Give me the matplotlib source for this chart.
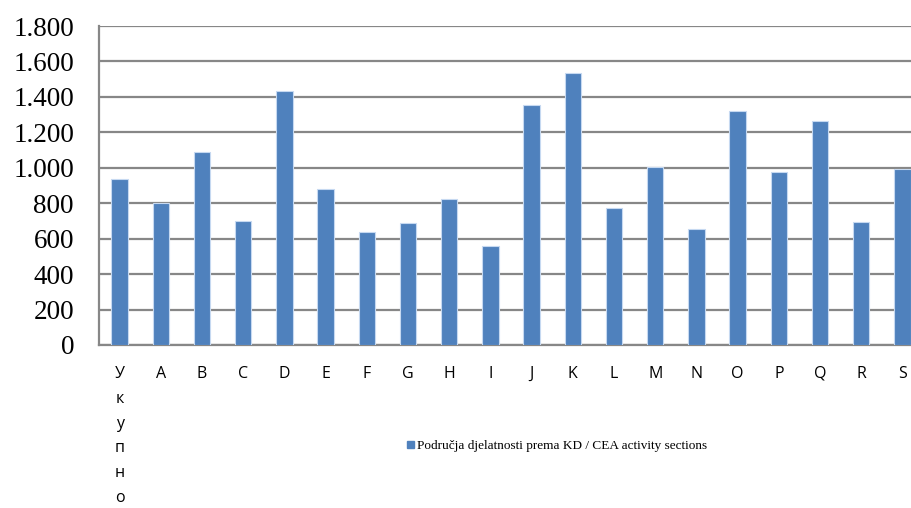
import matplotlib
matplotlib.use("Agg")
import matplotlib.pyplot as plt
import matplotlib.patches as mpatches
from matplotlib.ticker import FuncFormatter

categories = ["Укупно", "A", "B", "C", "D", "E", "F", "G", "H", "I",
              "J", "K", "L", "M", "N", "O", "P", "Q", "R", "S"]
values = [937, 800, 1088, 700, 1431, 883, 638, 691, 825, 561,
          1354, 1533, 775, 1003, 653, 1320, 978, 1262, 692, 991]
yticks = [0, 200, 400, 600, 800, 1000, 1200, 1400, 1600, 1800]
legend_label = "Područja djelatnosti prema KD / CEA activity sections"

bar_color = "#4f81bd"
grid_color = "#878787"

W, H = 911, 508
fig = plt.figure(figsize=(W / 100, H / 100), dpi=100)
# chart is clipped on the right in the reference, so the axes runs past the edge
ax = fig.add_axes([99 / W, 1 - 345 / H, 824 / W, 319 / H])

x = list(range(len(categories)))
ax.bar(x, values, width=0.4, color=bar_color, edgecolor="#c6d9f1",
       linewidth=0.8, zorder=3)

ax.set_xlim(-0.5, len(categories) - 0.5)
ax.set_ylim(0, 1800)
ax.set_yticks(yticks)
ax.yaxis.set_major_formatter(FuncFormatter(lambda v, p: f"{int(v):,}".replace(",", ".")))
ax.grid(axis="y", color=grid_color, linewidth=1.6, zorder=0)
ax.set_axisbelow(True)

for s in ["top", "right"]:
    ax.spines[s].set_visible(False)
for s in ["left", "bottom"]:
    ax.spines[s].set_color(grid_color)
    ax.spines[s].set_linewidth(1.6)

ax.tick_params(axis="y", length=0, pad=18, labelsize=19.5)
for t in ax.get_yticklabels():
    t.set_fontfamily("Liberation Serif")

ax.set_xticks(x)
# the first label is stacked letter by letter, as in the source chart
xlabels = ["\n".join(c) for c in categories]
ax.set_xticklabels(xlabels, fontfamily=["Open Sans", "DejaVu Sans"], fontsize=11.5,
                   va="top")
ax.tick_params(axis="x", length=0, pad=15)
for t in ax.get_xticklabels():
    t.set_linespacing(1.74)

patch = mpatches.Patch(color=bar_color, label=legend_label)
fig.legend(handles=[patch], loc="center", bbox_to_anchor=(557 / W, 1 - 446 / H),
           frameon=False, prop={"family": "Liberation Serif", "size": 9.5},
           handlelength=0.5, handleheight=0.5, handletextpad=0.2)

fig.savefig("out.png", dpi=100)
